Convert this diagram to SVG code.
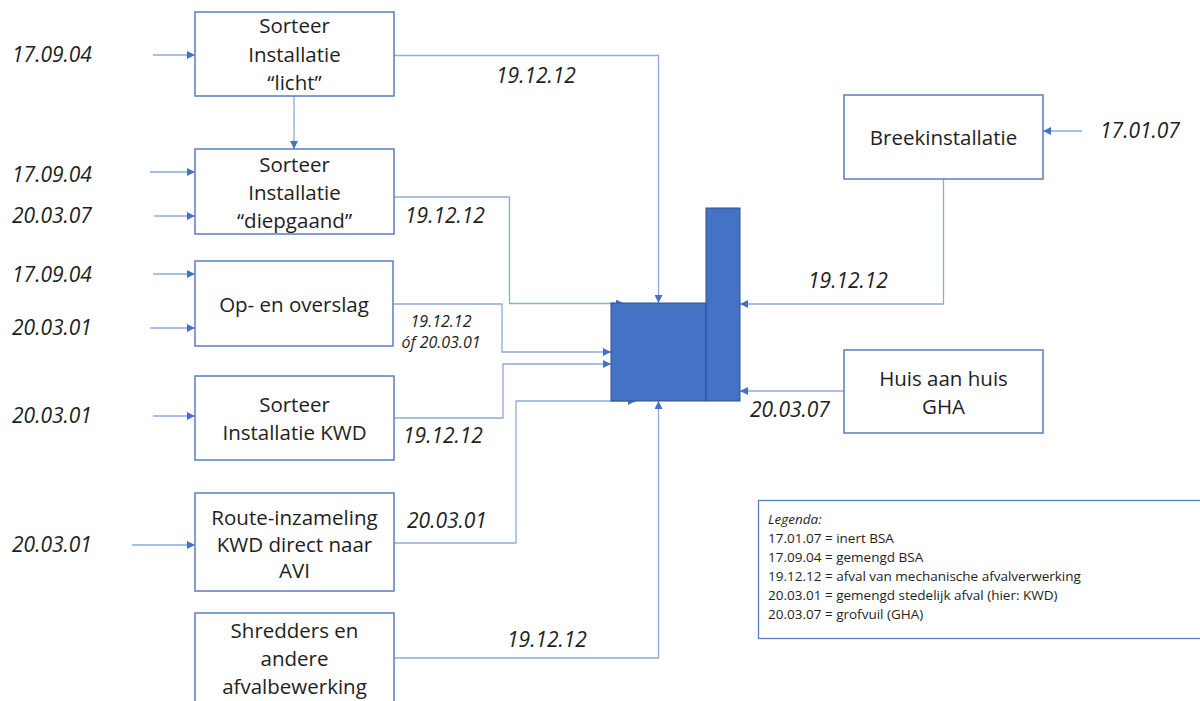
<svg xmlns="http://www.w3.org/2000/svg" width="1200" height="701" viewBox="0 0 1200 701">
<defs>
<style>
.box{fill:#fff;stroke:#5A7DC4;stroke-width:1.5}
.lbl{font-family:"Open Sans","Liberation Sans",sans-serif;font-size:20.5px;fill:#1e1e1e;text-anchor:middle}
.code{font-family:"Open Sans","Liberation Sans",sans-serif;font-size:21px;font-style:italic;fill:#1e1e1e}
.small{font-family:"Open Sans","Liberation Sans",sans-serif;font-size:16px;font-style:italic;fill:#1e1e1e;text-anchor:middle}
.leg{font-family:"Open Sans","Liberation Sans",sans-serif;font-size:13.5px;fill:#1e1e1e}
.con{fill:none;stroke:#8EAADC;stroke-width:1.3}
.block{fill:#4472C4;stroke:#2F528F;stroke-width:1}
</style>
<marker id="ah" viewBox="0 0 10 10" refX="10" refY="5" markerWidth="9" markerHeight="8" markerUnits="userSpaceOnUse" orient="auto">
<path d="M0,0 L10,5 L0,10 z" fill="#4472C4"/>
</marker>
</defs>
<rect width="1200" height="701" fill="#fff"/>

<g id="connectors">
<!-- inputs -->
<line class="con" x1="153" y1="55" x2="195" y2="55" marker-end="url(#ah)"/>
<line class="con" x1="150" y1="172" x2="195" y2="172" marker-end="url(#ah)"/>
<line class="con" x1="154" y1="216" x2="195" y2="216" marker-end="url(#ah)"/>
<line class="con" x1="153" y1="274" x2="195" y2="274" marker-end="url(#ah)"/>
<line class="con" x1="150" y1="328" x2="195" y2="328" marker-end="url(#ah)"/>
<line class="con" x1="153" y1="416" x2="195" y2="416" marker-end="url(#ah)"/>
<line class="con" x1="132" y1="545" x2="195" y2="545" marker-end="url(#ah)"/>
<line class="con" x1="1082" y1="131" x2="1043" y2="131" marker-end="url(#ah)"/>
<!-- box1 to box2 -->
<line class="con" x1="294" y1="96" x2="294" y2="149" marker-end="url(#ah)"/>
<!-- outputs -->
<path class="con" d="M394,55.5 H658.5 V303" marker-end="url(#ah)"/>
<path class="con" d="M394,197 H509.5 V303.5 H624" marker-end="url(#ah)"/>
<path class="con" d="M393,304 H502 V352 H611" marker-end="url(#ah)"/>
<path class="con" d="M394,418 H503 V364 H611" marker-end="url(#ah)"/>
<path class="con" d="M394,543 H516 V401 H636" marker-end="url(#ah)"/>
<path class="con" d="M394,658 H658.5 V401" marker-end="url(#ah)"/>
<path class="con" d="M943.5,179 V304 H740" marker-end="url(#ah)"/>
<line class="con" x1="844" y1="391" x2="740" y2="391" marker-end="url(#ah)"/>
</g>

<g id="installation">
<rect class="block" x="611" y="303" width="95" height="98"/>
<rect class="block" x="706" y="208" width="34" height="193"/>
</g>

<g id="node-licht">
<rect class="box" x="195" y="12" width="199" height="84"/>
<text class="lbl" x="294.5" y="33">Sorteer</text>
<text class="lbl" x="294.5" y="62">Installatie</text>
<text class="lbl" x="294.5" y="90">“licht”</text>
</g>
<g id="node-diepgaand">
<rect class="box" x="195" y="149" width="199" height="85"/>
<text class="lbl" x="294.5" y="172">Sorteer</text>
<text class="lbl" x="294.5" y="200">Installatie</text>
<text class="lbl" x="294.5" y="228">“diepgaand”</text>
</g>
<g id="node-overslag">
<rect class="box" x="195" y="261" width="198" height="85"/>
<text class="lbl" x="294" y="312">Op- en overslag</text>
</g>
<g id="node-kwd">
<rect class="box" x="195" y="376" width="199" height="84"/>
<text class="lbl" x="294.5" y="412">Sorteer</text>
<text class="lbl" x="294.5" y="440">Installatie KWD</text>
</g>
<g id="node-route">
<rect class="box" x="195" y="493" width="199" height="98"/>
<text class="lbl" x="294.5" y="525">Route-inzameling</text>
<text class="lbl" x="294.5" y="552">KWD direct naar</text>
<text class="lbl" x="294.5" y="578">AVI</text>
</g>
<g id="node-shredders">
<rect class="box" x="195" y="613" width="199" height="100"/>
<text class="lbl" x="294.5" y="638">Shredders en</text>
<text class="lbl" x="294.5" y="666">andere</text>
<text class="lbl" x="294.5" y="694">afvalbewerking</text>
</g>
<g id="node-breek">
<rect class="box" x="844" y="95" width="199" height="84"/>
<text class="lbl" x="943.5" y="145">Breekinstallatie</text>
</g>
<g id="node-huis">
<rect class="box" x="844" y="350" width="199" height="83"/>
<text class="lbl" x="943.5" y="386">Huis aan huis</text>
<text class="lbl" x="943.5" y="414">GHA</text>
</g>

<g id="input-labels">
<text class="code" x="12" y="62">17.09.04</text>
<text class="code" x="12" y="182">17.09.04</text>
<text class="code" x="12" y="223">20.03.07</text>
<text class="code" x="12" y="282">17.09.04</text>
<text class="code" x="12" y="335">20.03.01</text>
<text class="code" x="12" y="423">20.03.01</text>
<text class="code" x="12" y="552">20.03.01</text>
<text class="code" x="1100" y="138">17.01.07</text>
</g>

<g id="flow-labels">
<text class="code" x="496" y="83">19.12.12</text>
<text class="code" x="405" y="223">19.12.12</text>
<text class="small" x="441" y="327">19.12.12</text>
<text class="small" x="441" y="348">óf 20.03.01</text>
<text class="code" x="403" y="443">19.12.12</text>
<text class="code" x="407" y="528">20.03.01</text>
<text class="code" x="507" y="647">19.12.12</text>
<text class="code" x="808" y="288">19.12.12</text>
<text class="code" x="750" y="417">20.03.07</text>
</g>

<g id="legend">
<rect x="758.5" y="500.5" width="460" height="138" fill="#fff" stroke="#5A7DC4" stroke-width="1.3"/>
<text class="leg" x="768" y="524" font-style="italic">Legenda:</text>
<text class="leg" x="768" y="543">17.01.07 = inert BSA</text>
<text class="leg" x="768" y="562">17.09.04 = gemengd BSA</text>
<text class="leg" x="768" y="581">19.12.12 = afval van mechanische afvalverwerking</text>
<text class="leg" x="768" y="600">20.03.01 = gemengd stedelijk afval (hier: KWD)</text>
<text class="leg" x="768" y="619">20.03.07 = grofvuil (GHA)</text>
</g>
</svg>
